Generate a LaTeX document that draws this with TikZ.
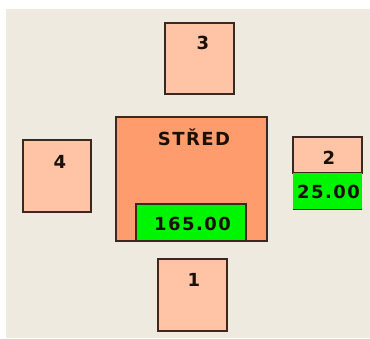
\documentclass[tikz,border=0pt]{standalone}
\usepackage{fontspec}
\setmainfont{DejaVu Sans}[BoldFont={DejaVu Sans Bold}]
\newfontfamily\lblfont{DejaVu Sans Bold}[LetterSpace=8]
\definecolor{bgc}{HTML}{EEEAE0}
\definecolor{peach}{HTML}{FFC4A6}
\definecolor{salmon}{HTML}{FF9C6E}
\definecolor{lgreen}{HTML}{00F500}
\definecolor{edge}{HTML}{3C2820}
\definecolor{txt}{HTML}{1A1008}
\begin{document}
\begin{tikzpicture}[x=1pt,y=-1pt,
  seat/.style={draw=edge,line width=1.1pt,fill=peach,inner sep=0pt,minimum width=69pt},
  table/.style={draw=edge,line width=1.1pt,fill=salmon,inner sep=0pt},
  val/.style={fill=lgreen,inner sep=0pt},
  lbl/.style={font=\lblfont\fontsize{18}{18}\selectfont,text=txt,inner sep=0pt}]
\useasboundingbox (0,0) rectangle (370,338);
\fill[white] (0,0) rectangle (370,338);
\fill[bgc] (6,9) rectangle (370,338);
% seat 3
\node[seat,minimum height=71pt] (s3) at (199.5,58.5) {};
\node[lbl] (l3) at (203,43) {3};
% table
\node[table,minimum width=151pt,minimum height=124pt] (t) at (191.5,179) {};
\node[lbl] (tl) at (194,137) {STŘED};
\node[val,draw=edge,line width=1.1pt,minimum width=110pt,minimum height=37pt] (g1) at (191,222.5) {};
\node[lbl] (v1) at (192.5,224) {165.00};
% seat 4
\node[seat,minimum width=68pt,minimum height=72pt] (s4) at (57,176) {};
\node[lbl] (l4) at (60,162) {4};
% seat 2
\node[seat,minimum height=36pt] (s2) at (327.5,155) {};
\node[lbl] (l2) at (329,158) {2};
\node[val,minimum width=69pt,minimum height=36pt] (g2) at (327.5,191) {};
\draw[edge,line width=0.8pt] (g2.south west) -- (g2.south east);
\node[lbl] (v2) at (328.5,192) {25.00};
% seat 1
\node[seat,minimum height=72pt] (s1) at (192.5,295) {};
\node[lbl] (l1) at (194,280) {1};
\end{tikzpicture}
\end{document}
